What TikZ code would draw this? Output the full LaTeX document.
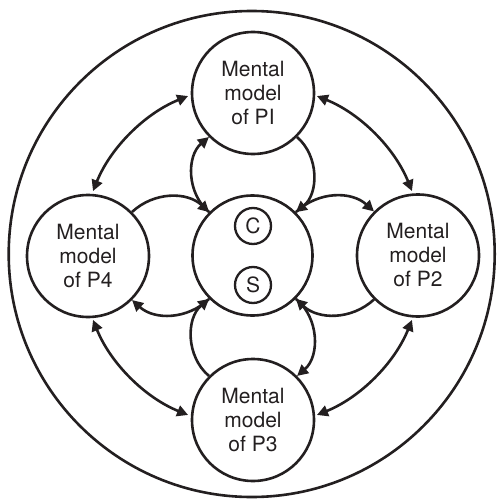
\documentclass[tikz,border=0pt]{standalone}
\usepackage{fontspec}
\setmainfont{TeX Gyre Heros}
\usetikzlibrary{arrows.meta}
\definecolor{ink}{HTML}{231F20}
\begin{document}
\begin{tikzpicture}[x=1pt,y=1pt,
  ln/.style={line width=2.6pt, draw=ink},
  model/.style={circle, ln, minimum size=122pt, inner sep=0pt, align=center,
    text=ink, font=\fontsize{21}{24}\selectfont},
  hub/.style={circle, ln, minimum size=120pt, inner sep=0pt},
  tag/.style={circle, line width=2.3pt, draw=ink, text=ink, minimum size=36pt,
    inner sep=0pt, font=\fontsize{21}{24}\selectfont},
  tip/.tip={Triangle[length=11pt,width=11pt]},
  flow/.style={ln, -tip},
  link/.style={ln, tip-tip}
]
\useasboundingbox (0,0) rectangle (496,-500);

% enclosing boundary
\draw[ln] (251.7,-254) circle[radius=243];

% central circle with its two markers
\node[hub] (c) at (252.5,-255.5) {};
\node[tag] (cc) at (253,-226) {C};
\node[tag] (ss) at (253,-285) {S};

% the four mental models
\node[model] (t) at (253,-93)    {Mental\\model\\of PI};
\node[model] (r) at (418,-255.5) {Mental\\model\\of P2};
\node[model] (b) at (253,-420)   {Mental\\model\\of P3};
\node[model] (l) at (88,-256)    {Mental\\model\\of P4};

% exchanges between the centre and each model
\draw[flow] (c.135)  to[bend left=50] (t.-135);
\draw[flow] (t.-45)  to[bend left=50] (c.45);
\draw[flow] (c.45)   to[bend left=43] (r.135);
\draw[flow] (r.-135) to[bend left=43] (c.-45);
\draw[flow] (c.-45)  to[bend left=50] (b.45);
\draw[flow] (b.135)  to[bend left=50] (c.-135);
\draw[flow] (c.-135) to[bend left=43] (l.-45);
\draw[flow] (l.45)   to[bend left=43] (c.135);

% two-way links between neighbouring models
\draw[link] (c.center) ++(112:172) arc[start angle=112, end angle=158, radius=172];
\draw[link] (c.center) ++(22:172)  arc[start angle=22,  end angle=68,  radius=172];
\draw[link] (c.center) ++(-68:172) arc[start angle=-68, end angle=-22, radius=172];
\draw[link] (c.center) ++(-158:172) arc[start angle=-158, end angle=-112, radius=172];
\end{tikzpicture}
\end{document}
